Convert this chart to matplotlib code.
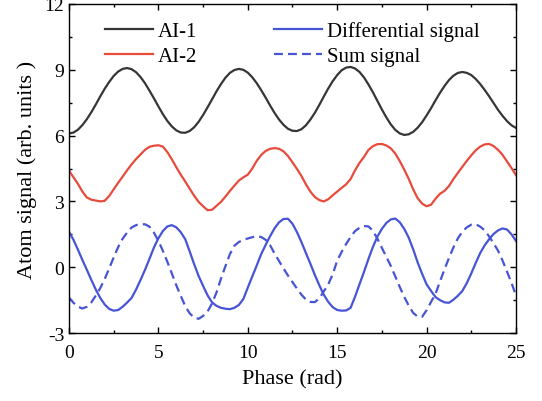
import matplotlib
matplotlib.use("Agg")
import matplotlib.pyplot as plt
from matplotlib.ticker import MultipleLocator

plt.rcParams['font.family'] = ['Liberation Serif', 'DejaVu Serif']
plt.rcParams['axes.unicode_minus'] = False

# phase grid (rad), step 0.25
phase = [i * 0.25 for i in range(101)]

ai1 = [6.10, 6.14, 6.27, 6.48, 6.75, 7.07, 7.42, 7.79, 8.14, 8.45,
       8.72, 8.92, 9.04, 9.08, 9.03, 8.89, 8.67, 8.39, 8.05, 7.70,
       7.33, 6.98, 6.67, 6.42, 6.24, 6.14, 6.13, 6.21, 6.38, 6.63,
       6.94, 7.29, 7.65, 8.02, 8.35, 8.64, 8.86, 8.99, 9.04, 9.00,
       8.87, 8.66, 8.39, 8.07, 7.73, 7.37, 7.03, 6.73, 6.49, 6.31,
       6.22, 6.21, 6.29, 6.47, 6.73, 7.04, 7.40, 7.78, 8.15, 8.48,
       8.76, 8.98, 9.10, 9.13, 9.06, 8.90, 8.65, 8.33, 7.97, 7.58,
       7.19, 6.83, 6.51, 6.26, 6.10, 6.03, 6.06, 6.17, 6.36, 6.61,
       6.92, 7.25, 7.61, 7.95, 8.26, 8.53, 8.73, 8.86, 8.90, 8.86,
       8.76, 8.58, 8.35, 8.08, 7.79, 7.48, 7.17, 6.90, 6.66, 6.47,
       6.35]

ai2 = [4.40, 4.10, 3.80, 3.45, 3.18, 3.08, 3.04, 3.00, 3.03, 3.25,
       3.55, 3.85, 4.13, 4.42, 4.69, 4.93, 5.14, 5.35, 5.49, 5.54,
       5.56, 5.50, 5.25, 4.92, 4.56, 4.22, 3.91, 3.58, 3.26, 2.98,
       2.78, 2.60, 2.62, 2.80, 2.98, 3.22, 3.48, 3.72, 3.95, 4.10,
       4.22, 4.50, 4.85, 5.12, 5.30, 5.40, 5.43, 5.40, 5.28, 5.07,
       4.78, 4.48, 4.16, 3.78, 3.45, 3.20, 3.06, 3.00, 3.10, 3.28,
       3.45, 3.62, 3.78, 4.02, 4.42, 4.76, 5.03, 5.35, 5.52, 5.61,
       5.62, 5.55, 5.42, 5.18, 4.84, 4.45, 4.03, 3.55, 3.15, 2.90,
       2.78, 2.85, 3.12, 3.35, 3.48, 3.70, 4.02, 4.30, 4.58, 4.85,
       5.10, 5.33, 5.50, 5.60, 5.62, 5.52, 5.35, 5.12, 4.82, 4.52,
       4.20]

diff_sig = [1.62, 1.25, 0.80, 0.33, -0.12, -0.58, -1.02, -1.40, -1.70, -1.90,
            -1.98, -1.95, -1.80, -1.61, -1.40, -1.02, -0.58, -0.12, 0.38, 0.90,
            1.32, 1.65, 1.86, 1.92, 1.82, 1.60, 1.28, 0.72, 0.14, -0.40,
            -0.85, -1.28, -1.60, -1.76, -1.85, -1.89, -1.91, -1.85, -1.72, -1.45,
            -0.93, -0.42, 0.08, 0.60, 1.02, 1.42, 1.78, 2.05, 2.20, 2.21,
            1.98, 1.60, 1.15, 0.65, 0.16, -0.35, -0.82, -1.25, -1.58, -1.82,
            -1.95, -1.98, -1.97, -1.85, -1.34, -0.77, -0.21, 0.38, 0.93, 1.40,
            1.75, 2.02, 2.18, 2.22, 2.05, 1.75, 1.35, 0.82, 0.22, -0.30,
            -0.78, -1.08, -1.36, -1.50, -1.60, -1.62, -1.48, -1.30, -1.08, -0.72,
            -0.28, 0.20, 0.65, 1.00, 1.28, 1.52, 1.68, 1.77, 1.72, 1.50,
            1.20]

sum_sig = [-1.38, -1.62, -1.80, -1.88, -1.80, -1.60, -1.29, -0.95, -0.53, -0.05,
           0.45, 0.92, 1.30, 1.58, 1.81, 1.92, 1.96, 1.96, 1.85, 1.58,
           1.20, 0.75, 0.25, -0.28, -0.82, -1.30, -1.77, -2.10, -2.30, -2.35,
           -2.22, -2.02, -1.65, -1.15, -0.52, 0.05, 0.60, 0.98, 1.15, 1.25,
           1.31, 1.37, 1.41, 1.38, 1.25, 1.00, 0.62, 0.28, -0.06, -0.38,
           -0.68, -0.97, -1.25, -1.47, -1.58, -1.59, -1.42, -1.10, -0.78, -0.32,
           0.30, 0.70, 1.06, 1.38, 1.65, 1.80, 1.88, 1.86, 1.66, 1.30,
           0.88, 0.47, 0.06, -0.42, -0.90, -1.35, -1.75, -2.08, -2.25, -2.26,
           -1.96, -1.58, -1.21, -0.65, -0.10, 0.42, 0.90, 1.32, 1.62, 1.82,
           1.94, 1.96, 1.85, 1.68, 1.40, 1.09, 0.75, 0.30, -0.20, -0.72,
           -1.28]

fig = plt.figure(figsize=(5.42, 4.02), dpi=100)
ax = fig.add_axes([0.1273, 0.169, 0.8247, 0.8186])

lw = 1.6
ax.plot(phase, ai1, color='#363636', lw=lw, label='AI-1')
ax.plot(phase, ai2, color='#e84b3c', lw=lw, label='AI-2')
ax.plot(phase, diff_sig, color='#4754d5', lw=lw, label='Differential signal')
ax.plot(phase, sum_sig, color='#4754d5', lw=lw, dashes=(4, 2.3), label='Sum signal')

ax.set_xlim(0, 25)
ax.set_ylim(-3, 12)
ax.xaxis.set_major_locator(MultipleLocator(5))
ax.xaxis.set_minor_locator(MultipleLocator(2.5))
ax.yaxis.set_major_locator(MultipleLocator(3))
ax.yaxis.set_minor_locator(MultipleLocator(1.5))
ax.tick_params(which='both', direction='in', top=True, right=True, labelsize=14, width=1)
ax.tick_params(which='major', length=4.5)
ax.tick_params(which='minor', length=2.5)
ax.tick_params(axis='x', which='both', pad=8)
for s in ax.spines.values():
    s.set_linewidth(1.0)

ax.set_xlabel('Phase (rad)', fontsize=16, labelpad=6)
ax.set_ylabel('Atom signal (arb. units )', fontsize=16, labelpad=5)

ax.legend(ncol=2, frameon=False, fontsize=15, loc='upper left',
          bbox_to_anchor=(0.08, 0.947), handlelength=2.3, handletextpad=0.25,
          columnspacing=3.7, labelspacing=0.25, borderaxespad=0, borderpad=0)

fig.savefig('out.png', dpi=100)
